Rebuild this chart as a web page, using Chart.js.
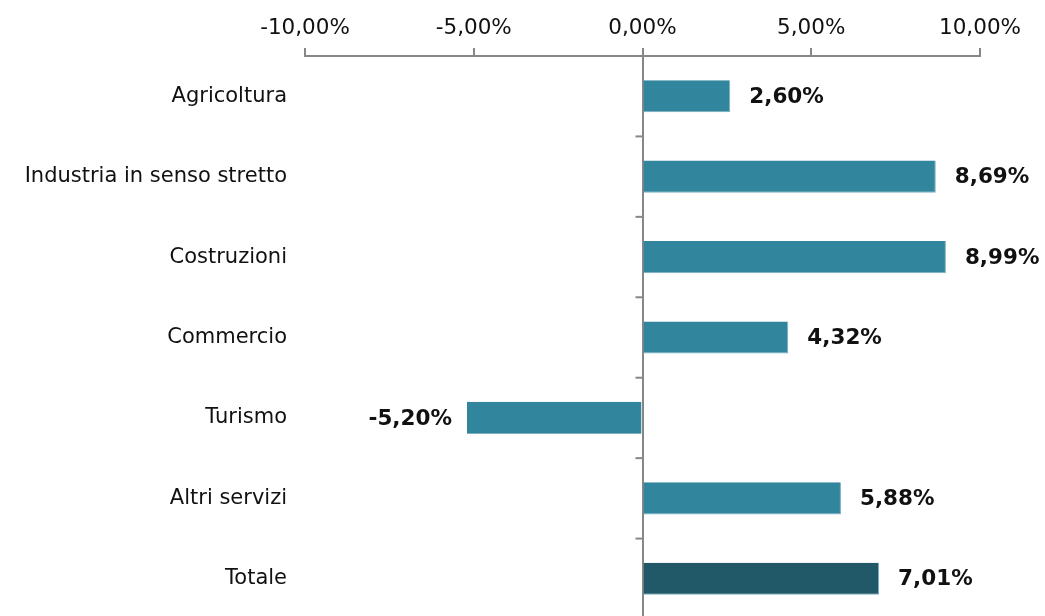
<!DOCTYPE html>
<html>
<head>
<meta charset="utf-8">
<script src="https://cdn.jsdelivr.net/npm/chart.js@4/dist/chart.umd.min.js"></script>
<style>
  html, body { margin: 0; padding: 0; background: #ffffff; overflow: hidden; }
  #wrap { width: 1045px; height: 620px; }
</style>
</head>
<body>
<div id="wrap"><canvas id="chart" width="1045" height="620"></canvas></div>
<script>
// Data
const SECTORS = ['Agricoltura', 'Industria in senso stretto', 'Costruzioni', 'Commercio', 'Turismo', 'Altri servizi', 'Totale'];
const GROWTH = [2.60, 8.69, 8.99, 4.32, -5.20, 5.88, 7.01];
const X_TICKS = [-10, -5, 0, 5, 10];

const BAR_COLOR = '#31859c';
const TOTAL_COLOR = '#215968';
const AXIS_COLOR = '#878787';
const TEXT_COLOR = '#111111';

function formatPct(v) {
    return v.toFixed(2).replace('.', ',') + '%';
}

// Value labels at the bar ends
const valueLabels = {
    id: 'valueLabels',
    afterDatasetsDraw(chart) {
        const ctx = chart.ctx;
        const meta = chart.getDatasetMeta(0);
        ctx.save();
        ctx.font = 'bold 21.5px "DejaVu Sans"';
        ctx.fillStyle = TEXT_COLOR;
        ctx.textBaseline = 'middle';
        meta.data.forEach((bar, i) => {
            const v = GROWTH[i];
            if (v >= 0) {
                ctx.textAlign = 'left';
                ctx.fillText(formatPct(v), bar.x + 19, bar.y + 1);
            } else {
                ctx.textAlign = 'right';
                ctx.fillText(formatPct(v), bar.x - 15, bar.y + 1);
            }
        });
        ctx.restore();
    }
};

// Small tick marks on the zero line between categories
const zeroTicks = {
    id: 'zeroTicks',
    afterDraw(chart) {
        const ctx = chart.ctx;
        const x0 = chart.scales.x.getPixelForValue(0);
        const yScale = chart.scales.y;
        ctx.save();
        ctx.strokeStyle = AXIS_COLOR;
        ctx.lineWidth = 2;
        for (let i = 1; i < SECTORS.length; i++) {
            const y = (yScale.getPixelForValue(i - 1) + yScale.getPixelForValue(i)) / 2;
            ctx.beginPath();
            ctx.moveTo(x0 - 7, y);
            ctx.lineTo(x0, y);
            ctx.stroke();
        }
        ctx.restore();
    }
};

new Chart(document.getElementById('chart'), {
    type: 'bar',
    data: {
        labels: SECTORS,
        datasets: [{
            data: GROWTH,
            backgroundColor: GROWTH.map((_, i) => i === SECTORS.length - 1 ? TOTAL_COLOR : BAR_COLOR),
            borderColor: '#7ab0bf',
            borderWidth: { top: 0, bottom: 1, right: 1, left: 0 },
            borderSkipped: 'start',
            barPercentage: 0.4,
            categoryPercentage: 1
        }]
    },
    options: {
        indexAxis: 'y',
        responsive: false,
        animation: false,
        layout: { padding: { left: 0, right: 65, top: 0, bottom: 1 } },
        plugins: {
            legend: { display: false },
            tooltip: { enabled: false }
        },
        scales: {
            x: {
                position: 'top',
                min: -10,
                max: 10,
                afterBuildTicks(scale) {
                    scale.ticks = X_TICKS.map(v => ({ value: v }));
                },
                afterFit(scale) { scale.height = 56; },
                border: { display: true, color: AXIS_COLOR, width: 2 },
                grid: {
                    drawOnChartArea: true,
                    drawTicks: true,
                    tickLength: 8,
                    tickColor: AXIS_COLOR,
                    tickWidth: 2,
                    color: ctx => (ctx.tick && ctx.tick.value === 0) ? AXIS_COLOR : 'rgba(0,0,0,0)',
                    lineWidth: 2
                },
                ticks: {
                    color: TEXT_COLOR,
                    font: { family: '"DejaVu Sans"', size: 21.5 },
                    padding: 7,
                    maxRotation: 0,
                    callback: v => formatPct(v)
                }
            },
            y: {
                afterFit(scale) {
                    scale.width = 305;
                    scale.paddingTop = 0;
                    scale.paddingBottom = 0;
                },
                border: { display: false },
                grid: { display: false, drawTicks: false },
                ticks: {
                    color: TEXT_COLOR,
                    font: { family: '"DejaVu Sans"', size: 21 },
                    padding: 18
                }
            }
        }
    },
    plugins: [valueLabels, zeroTicks]
});
</script>
</body>
</html>
